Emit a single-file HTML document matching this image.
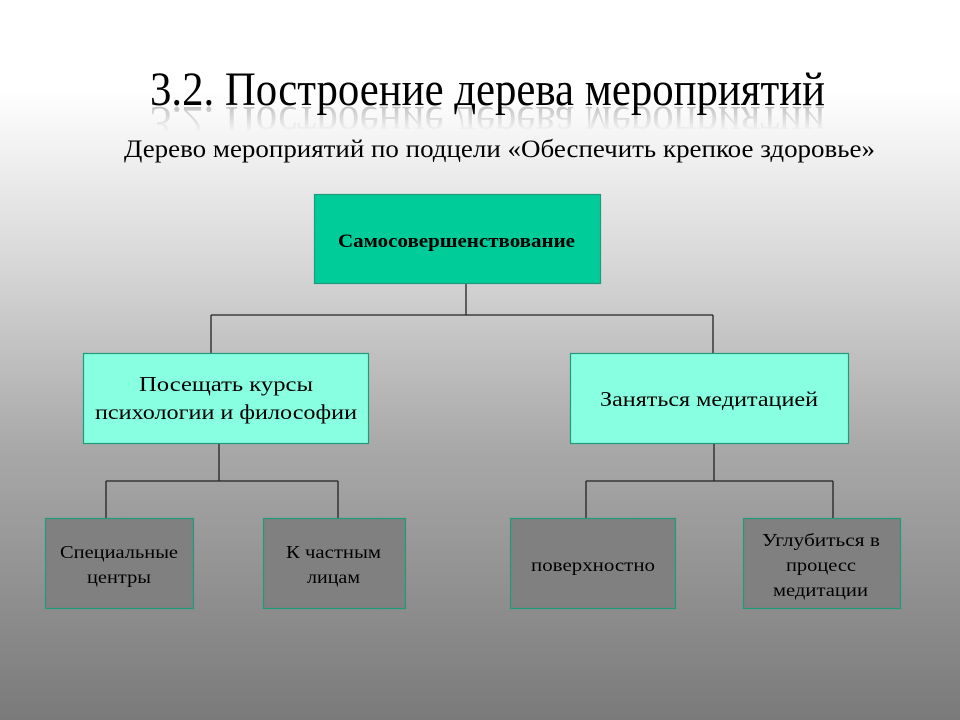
<!DOCTYPE html>
<html><head><meta charset="utf-8"><style>
html,body{margin:0;padding:0}
body{width:960px;height:720px;overflow:hidden;background:linear-gradient(#fff 0px,#fff 90px,#d8d8d8 260px,#a8a8a8 450px,#7a7a7a 720px)}
</style></head><body>
<svg width="960" height="720" xmlns="http://www.w3.org/2000/svg" style="position:absolute;left:0;top:0" font-family="Liberation Serif, serif">
<defs>
<linearGradient id="fade" x1="0" y1="0" x2="0" y2="1"><stop offset="0" stop-color="#fff" stop-opacity="1"/><stop offset="1" stop-color="#fff" stop-opacity="0"/></linearGradient>
<mask id="m"><rect x="0" y="106" width="960" height="26" fill="url(#fade)"/></mask>
</defs>
<text x="150" y="105" font-size="48" textLength="675" lengthAdjust="spacingAndGlyphs" fill="#000">3.2. Построение дерева мероприятий</text>
<g mask="url(#m)" opacity="0.22"><g transform="translate(0,212) scale(1,-1)"><text x="150" y="105" font-size="48" textLength="675" lengthAdjust="spacingAndGlyphs" fill="#000">3.2. Построение дерева мероприятий</text></g></g>
<text x="124" y="157" font-size="25" textLength="751" lengthAdjust="spacingAndGlyphs">Дерево мероприятий по подцели  «Обеспечить крепкое здоровье»</text>
<g stroke="#222" stroke-width="1.3" fill="none">
<path d="M466 284V315M211 315H713M211 315V353M713 315V353"/>
<path d="M219 443V481M106 481H338M106 481V518M338 481V518"/>
<path d="M714 443V481M586 481H833M586 481V518M833 481V518"/>
</g>
<g stroke="#1f9a7a" stroke-width="1.2">
<rect x="314.5" y="194.5" width="286" height="89" fill="#00cc99"/>
<rect x="83.5" y="353.5" width="285" height="90" fill="#88ffe0"/>
<rect x="570.5" y="353.5" width="278" height="90" fill="#88ffe0"/>
<rect x="45.5" y="518.5" width="148" height="90" fill="#808080"/>
<rect x="263.5" y="518.5" width="142" height="90" fill="#808080"/>
<rect x="510.5" y="518.5" width="165" height="90" fill="#808080"/>
<rect x="743.5" y="518.5" width="157" height="90" fill="#808080"/>
</g>
<g fill="#000" lengthAdjust="spacingAndGlyphs">
<text x="338" y="247" font-size="19" font-weight="bold" textLength="237" lengthAdjust="spacingAndGlyphs">Самосовершенствование</text>
<text x="139" y="391" font-size="21" textLength="174" lengthAdjust="spacingAndGlyphs">Посещать курсы</text>
<text x="95" y="419" font-size="21" textLength="262" lengthAdjust="spacingAndGlyphs">психологии и философии</text>
<text x="600" y="406" font-size="21" textLength="218" lengthAdjust="spacingAndGlyphs">Заняться медитацией</text>
<text x="60" y="558" font-size="18" textLength="118" lengthAdjust="spacingAndGlyphs">Специальные</text>
<text x="87" y="583" font-size="18" textLength="64" lengthAdjust="spacingAndGlyphs">центры</text>
<text x="286" y="558" font-size="18" textLength="95" lengthAdjust="spacingAndGlyphs">К частным</text>
<text x="307" y="583" font-size="18" textLength="53" lengthAdjust="spacingAndGlyphs">лицам</text>
<text x="531" y="571" font-size="18" textLength="124" lengthAdjust="spacingAndGlyphs">поверхностно</text>
<text x="762" y="546" font-size="18" textLength="118" lengthAdjust="spacingAndGlyphs">Углубиться в</text>
<text x="786" y="571" font-size="18" textLength="70" lengthAdjust="spacingAndGlyphs">процесс</text>
<text x="773" y="596" font-size="18" textLength="95" lengthAdjust="spacingAndGlyphs">медитации</text>
</g>
</svg>
</body></html>
